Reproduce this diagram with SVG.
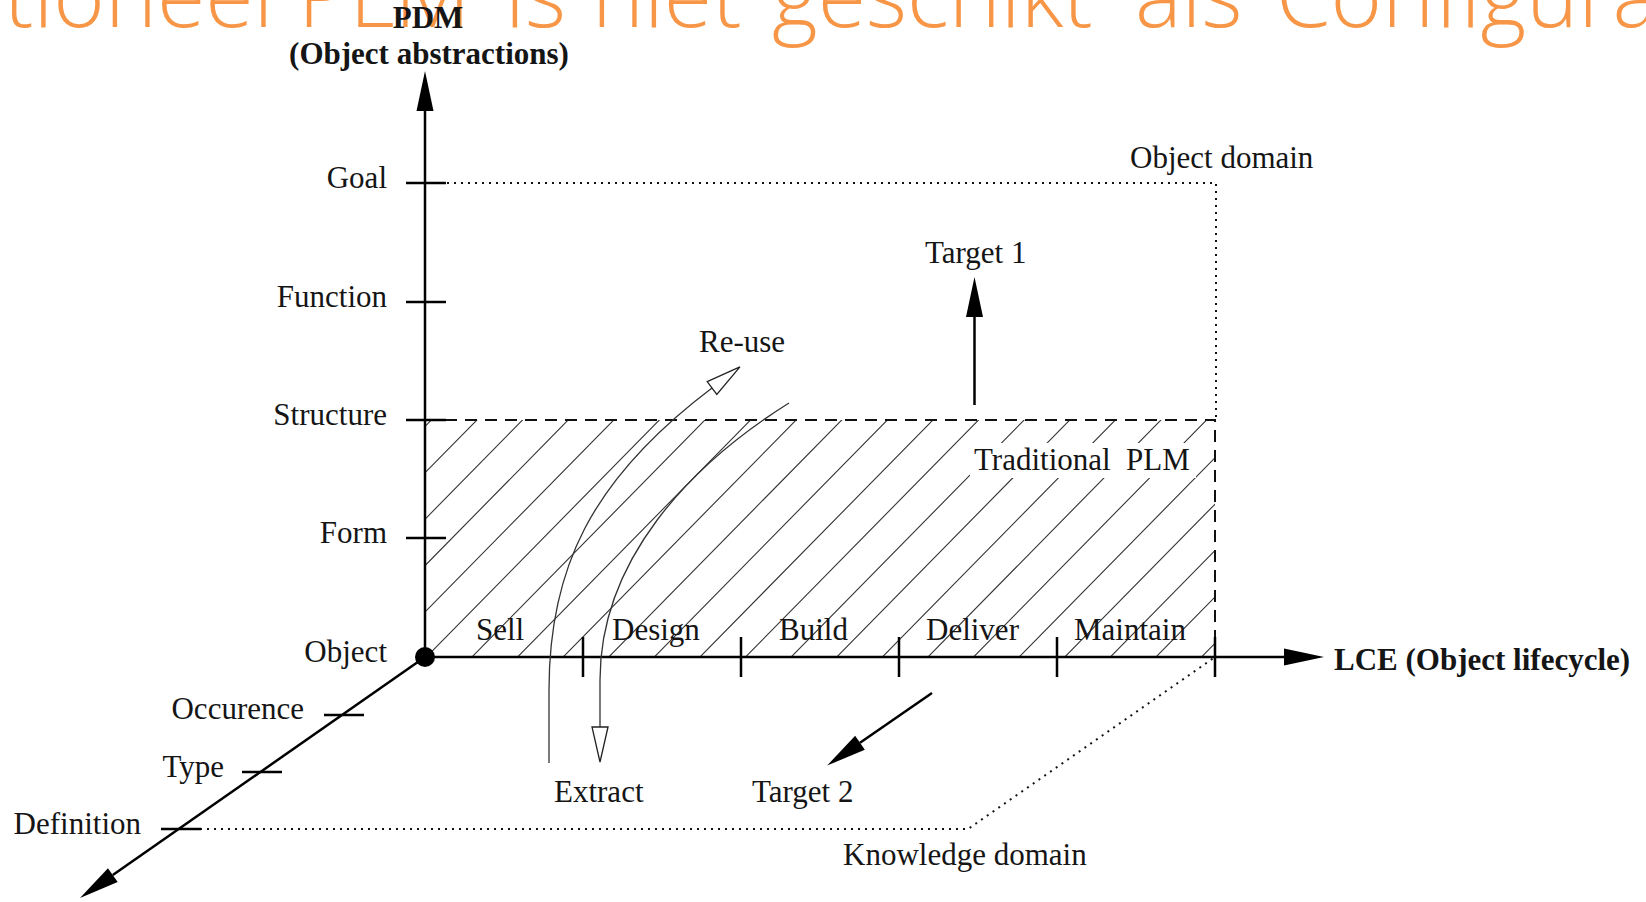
<svg xmlns="http://www.w3.org/2000/svg" width="1646" height="902" viewBox="0 0 1646 902">
<defs>
<style>
.lbl{font-family:'Liberation Serif','Times New Roman',serif;font-size:31px;fill:#151515}
.bold{font-weight:bold;font-size:31px}
.ax{stroke:#000;stroke-width:2.5;fill:none}
.tick{stroke:#000;stroke-width:2.5;fill:none}
.dot{stroke:#111;stroke-width:2;stroke-dasharray:2 5;fill:none}
.dash{stroke:#111;stroke-width:2;stroke-dasharray:12 8;fill:none}
.hatch{stroke:#333;stroke-width:1.1;fill:none}
.curve{stroke:#333;stroke-width:1.3;fill:none}
.title{font-family:'Open Sans','Noto Sans',sans-serif;font-weight:300;font-size:88px;fill:#F79646}
</style>
<marker id="ah" markerUnits="userSpaceOnUse" markerWidth="42" markerHeight="20" viewBox="-1 -10 42 20" refX="0" refY="0" orient="auto"><path d="M0,-8.5 L40,0 L0,8.5 Z" fill="#000"/></marker>
<marker id="oh" markerUnits="userSpaceOnUse" markerWidth="40" markerHeight="20" viewBox="-2 -10 40 20" refX="0" refY="0" orient="auto"><path d="M0,-8 L35,0 L0,8 Z" fill="#fff" stroke="#222" stroke-width="1.3"/></marker>
<clipPath id="hc"><rect x="425" y="420" width="790" height="237"/></clipPath>
</defs>
<rect x="0" y="0" width="1646" height="902" fill="#fff"/>

<g id="title">
<text class="title" y="27"><tspan x="4">tioneel</tspan><tspan x="298">PLM</tspan><tspan x="505">is</tspan><tspan x="592">niet</tspan><tspan x="772">geschikt</tspan><tspan x="1135">als</tspan><tspan x="1276">Configura</tspan></text>
</g>

<g id="traditional-plm">
<path class="hatch" clip-path="url(#hc)" d="M178.4,677.3 l273,-277.7 M224,677.3 l273,-277.7 M269.6,677.3 l273,-277.7 M315.2,677.3 l273,-277.7 M360.8,677.3 l273,-277.7 M406.4,677.3 l273,-277.7 M452,677.3 l273,-277.7 M497.6,677.3 l273,-277.7 M543.2,677.3 l273,-277.7 M588.8,677.3 l273,-277.7 M634.4,677.3 l273,-277.7 M680,677.3 l273,-277.7 M725.6,677.3 l273,-277.7 M771.2,677.3 l273,-277.7 M816.8,677.3 l273,-277.7 M862.4,677.3 l273,-277.7 M908,677.3 l273,-277.7 M953.6,677.3 l273,-277.7 M999.2,677.3 l273,-277.7 M1044.8,677.3 l273,-277.7 M1090.4,677.3 l273,-277.7 M1136,677.3 l273,-277.7 M1181.6,677.3 l273,-277.7"/>
<rect x="970" y="443" width="226" height="35" fill="#fff"/>
<path class="dash" d="M425,420 H1215 V657"/>
<text class="lbl" x="974" y="470">Traditional<tspan x="1126">PLM</tspan></text>
</g>

<g id="object-domain">
<path class="dot" d="M447,183 H1216 V420"/>
<text class="lbl" x="1130" y="168">Object domain</text>
</g>

<g id="knowledge-domain">
<path class="dot" d="M200,829 H968 L1215,657"/>
<text class="lbl" x="843" y="865">Knowledge domain</text>
</g>

<g id="pdm-axis">
<line class="ax" x1="425" y1="657" x2="425" y2="111" marker-end="url(#ah)"/>
<path class="tick" d="M406,183 H446 M406,302 H446 M406,420 H446 M406,538 H446"/>
<text class="lbl bold" x="428" y="28" text-anchor="middle">PDM</text>
<text class="lbl bold" x="429" y="64" text-anchor="middle">(Object abstractions)</text>
<text class="lbl" x="387" y="188" text-anchor="end">Goal</text>
<text class="lbl" x="387" y="307" text-anchor="end">Function</text>
<text class="lbl" x="387" y="425" text-anchor="end">Structure</text>
<text class="lbl" x="387" y="543" text-anchor="end">Form</text>
<text class="lbl" x="387" y="662" text-anchor="end">Object</text>
</g>

<g id="lce-axis">
<line class="ax" x1="425" y1="657" x2="1284" y2="657" marker-end="url(#ah)"/>
<path class="tick" d="M583,637 V677 M741,637 V677 M899,637 V677 M1057,637 V677 M1215,637 V677"/>
<text class="lbl bold" x="1334" y="670">LCE (Object lifecycle)</text>
<text class="lbl" x="476" y="640">Sell</text>
<text class="lbl" x="612" y="640">Design</text>
<text class="lbl" x="779" y="640">Build</text>
<text class="lbl" x="926" y="640">Deliver</text>
<text class="lbl" x="1074" y="640">Maintain</text>
</g>

<g id="knowledge-axis">
<line class="ax" x1="425" y1="657" x2="112.8" y2="875.1" marker-end="url(#ah)"/>
<path class="tick" d="M324,715 H364 M242,772 H282 M161,829 H201"/>
<text class="lbl" x="304" y="719" text-anchor="end">Occurence</text>
<text class="lbl" x="224" y="777" text-anchor="end">Type</text>
<text class="lbl" x="141" y="834" text-anchor="end">Definition</text>
</g>

<g id="origin">
<circle cx="425" cy="657" r="10" fill="#000"/>
</g>

<g id="connectors">
<line id="target1" class="ax" x1="974.5" y1="405" x2="974.5" y2="317" marker-end="url(#ah)"/>
<line id="target2" class="ax" x1="932" y1="693" x2="860" y2="742.8" marker-end="url(#ah)"/>
<path id="reuse" class="curve" d="M549,763 L549,690 C549,570 590,480 712,388" marker-end="url(#oh)"/>
<path id="extract" class="curve" d="M789,403 C690,465 600,560 600,680 L600,727" marker-end="url(#oh)"/>
</g>

<g id="connector-labels">
<text class="lbl" x="925" y="263">Target 1</text>
<text class="lbl" x="699" y="352">Re-use</text>
<text class="lbl" x="554" y="802">Extract</text>
<text class="lbl" x="752" y="802">Target 2</text>
</g>
</svg>
